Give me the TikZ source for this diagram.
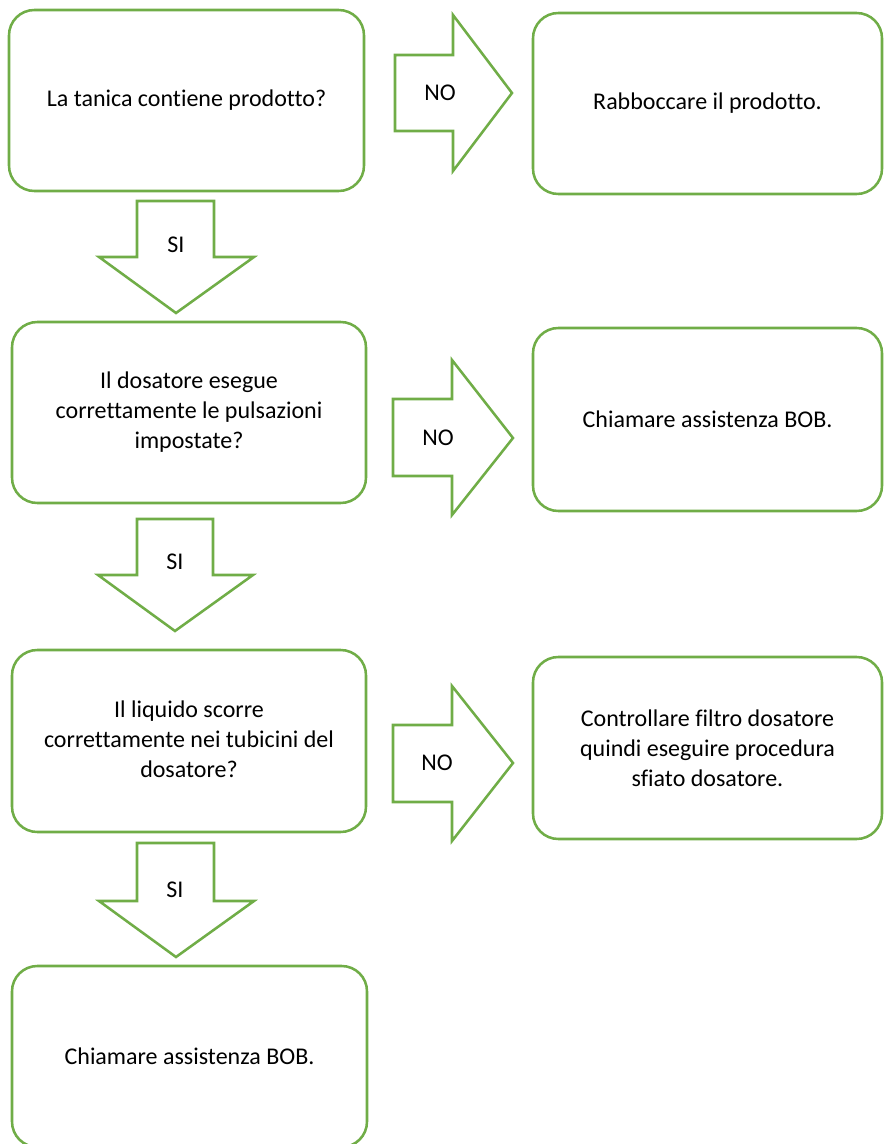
\documentclass[tikz,border=0pt]{standalone}
\usepackage{fontspec}
\setmainfont{Carlito}[Ligatures=NoCommon]
\definecolor{boxgreen}{HTML}{70AD47}
\begin{document}
\begin{tikzpicture}[x=0.75pt,y=-0.75pt,
  flowbox/.style={draw=boxgreen,line width=1.9pt,rounded corners=19pt,fill=white,
    align=center,inner sep=0pt,font=\fontsize{18}{22.5}\selectfont},
  blockarrow/.style={draw=boxgreen,line width=1.9pt,fill=white,line join=miter},
  lbl/.style={inner sep=0pt,font=\fontsize{18}{22.5}\selectfont}]
\useasboundingbox (0,0) rectangle (883,1144);
% boxes
\node[flowbox,minimum width=355*0.75pt,minimum height=181*0.75pt] (q1) at (186.5,100.5) {La tanica contiene prodotto?};
\node[flowbox,minimum width=349*0.75pt,minimum height=181*0.75pt] (r1) at (707.5,103.5) {\raisebox{-2pt}{Rabboccare il prodotto.}};
\node[flowbox,minimum width=354*0.75pt,minimum height=181*0.75pt] (q2) at (189,412.5) {\raisebox{-1.5pt}{\begin{tabular}{@{}c@{}}Il dosatore esegue\\correttamente le pulsazioni\\impostate?\end{tabular}}};
\node[flowbox,minimum width=349*0.75pt,minimum height=183*0.75pt] (r2) at (707.5,419.5) {Chiamare assistenza BOB.};
\node[flowbox,minimum width=354*0.75pt,minimum height=182*0.75pt] (q3) at (189,741) {\raisebox{-1.5pt}{\begin{tabular}{@{}c@{}}Il liquido scorre\\correttamente nei tubicini del\\dosatore?\end{tabular}}};
\node[flowbox,minimum width=349*0.75pt,minimum height=182*0.75pt] (r3) at (707.5,748) {Controllare filtro dosatore\\quindi eseguire procedura\\sfiato dosatore.};
\node[flowbox,minimum width=355*0.75pt,minimum height=181*0.75pt] (q4) at (189.5,1056.5) {\raisebox{-5pt}{Chiamare assistenza BOB.}};
% NO arrows
\draw[blockarrow] (395,55) -- (453,55) -- (453,15) -- (512,93) -- (453,171) -- (453,131) -- (395,131) -- cycle;
\node[lbl] (no1) at (440,93) {NO};
\draw[blockarrow] (393,399) -- (452,399) -- (452,360) -- (513,438) -- (452,515) -- (452,476) -- (393,476) -- cycle;
\node[lbl] (no2) at (438,438) {NO};
\draw[blockarrow] (393,725) -- (452,725) -- (452,686) -- (513,763) -- (452,841) -- (452,802) -- (393,802) -- cycle;
\node[lbl] (no3) at (437,763) {NO};
% SI arrows
\draw[blockarrow] (137,201) -- (214,201) -- (214,257) -- (254,257) -- (176,313) -- (99,257) -- (137,257) -- cycle;
\node[lbl] (si1) at (176,245) {SI};
\draw[blockarrow] (137,519) -- (213,519) -- (213,575) -- (253,575) -- (175,631) -- (98,575) -- (137,575) -- cycle;
\node[lbl] (si2) at (175,562) {SI};
\draw[blockarrow] (137,843) -- (214,843) -- (214,901) -- (254,901) -- (176,957) -- (99,901) -- (137,901) -- cycle;
\node[lbl] (si3) at (175,890) {SI};
\end{tikzpicture}
\end{document}
